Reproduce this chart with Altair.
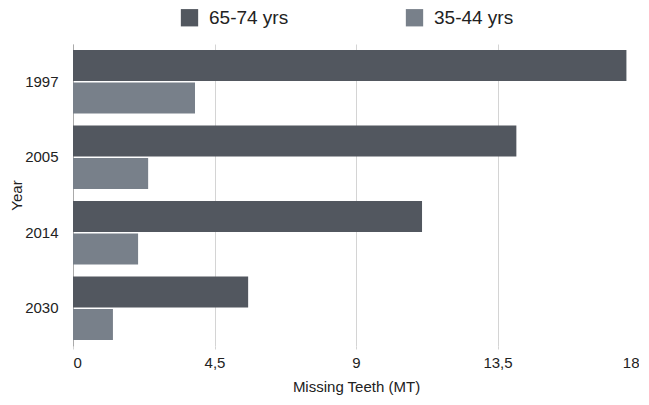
import altair as alt
import pandas as pd

years = ["1997", "2005", "2014", "2030"]
series = ["65-74 yrs", "35-44 yrs"]
old_vals = [17.6, 14.1, 11.1, 5.57]
young_vals = [3.88, 2.39, 2.07, 1.27]
x_ticks = [0, 4.5, 9, 13.5, 18]
colors = ["#52575f", "#78808a"]

rows = []
for y, a, b in zip(years, old_vals, young_vals):
    rows.append({"Year": y, "Group": series[0], "MT": a})
    rows.append({"Year": y, "Group": series[1], "MT": b})
df = pd.DataFrame(rows)

font = "Liberation Sans"

chart = alt.Chart(df).mark_bar().encode(
    x=alt.X("MT:Q", scale=alt.Scale(domain=[0, 18], nice=False),
            axis=alt.Axis(values=x_ticks, title="Missing Teeth (MT)",
                          labelExpr="replace(toString(datum.value), '.', ',')",
                          domain=False, grid=True, gridColor="#d4d4d4",
                          ticks=True, tickColor="#d4d4d4", tickSize=3,
                          labelFontSize=15, labelColor="#222", labelPadding=6,
                          titleFontSize=15, titleFontWeight="normal", titleColor="#222",
                          titlePadding=9, labelFont=font, titleFont=font)),
    y=alt.Y("Year:N", sort=years,
            scale=alt.Scale(paddingInner=0.16, paddingOuter=0.08),
            axis=alt.Axis(title="Year", ticks=False, domain=True, domainColor="#aaaaaa",
                          labelFontSize=15, labelColor="#222", labelPadding=15,
                          titleFontSize=15, titleFontWeight="normal", titleColor="#222",
                          titleX=-49, labelFont=font, titleFont=font)),
    yOffset=alt.YOffset("Group:N", sort=series, scale=alt.Scale(paddingInner=0.05)),
    color=alt.Color("Group:N", sort=series,
                    scale=alt.Scale(domain=series, range=colors),
                    legend=alt.Legend(title=None, orient="none", legendX=107, legendY=-36,
                                      direction="horizontal", symbolType="square",
                                      symbolSize=300, symbolStrokeWidth=0,
                                      labelFontSize=19, labelFont=font, labelColor="#222",
                                      columnPadding=116, labelOffset=10)),
).properties(
    width=566, height=302,
    autosize=alt.AutoSizeParams(type="none"),
    padding={"left": 65, "top": 36, "right": 0, "bottom": 51},
).configure_view(stroke=None)

chart.save("out.html", embed_options={"renderer": "svg", "actions": False})
